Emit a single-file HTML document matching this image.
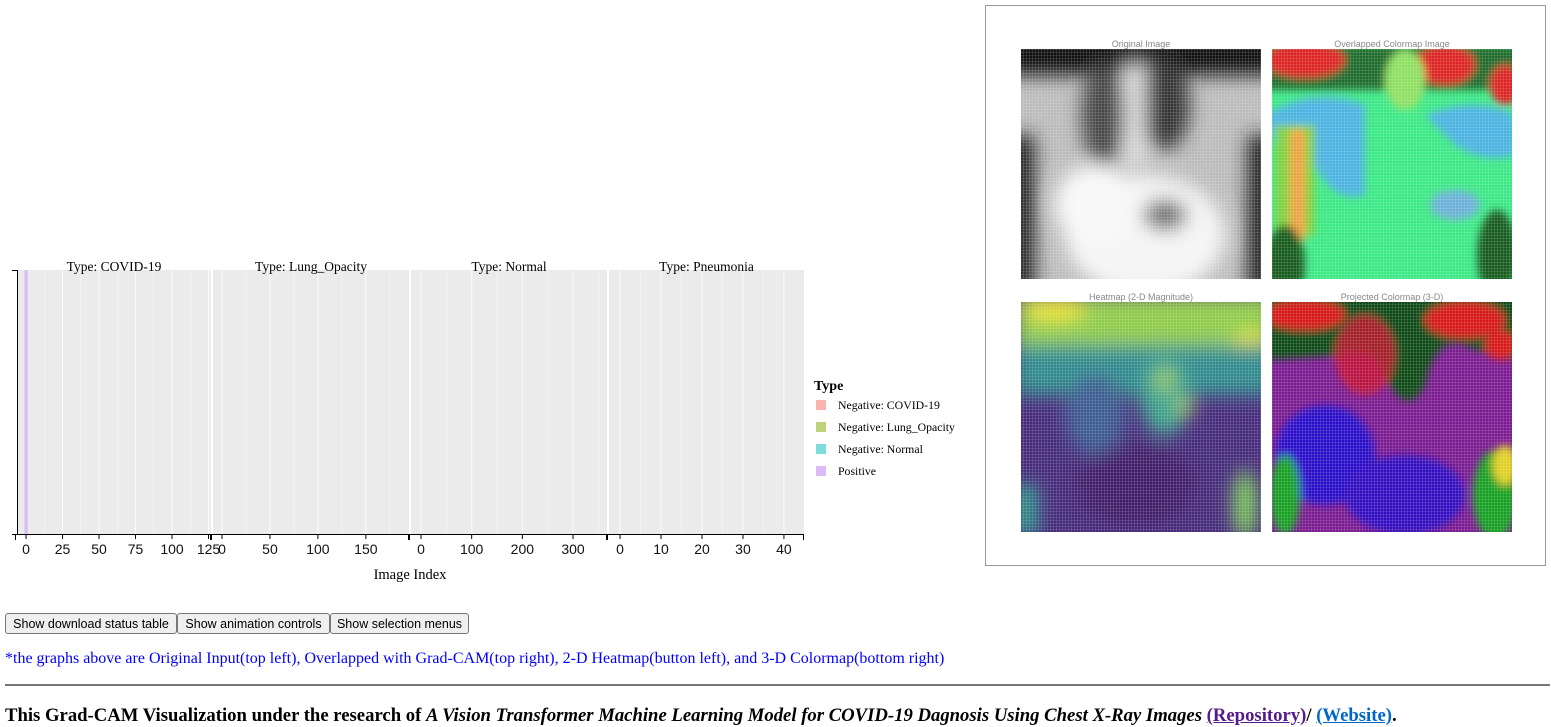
<!DOCTYPE html>
<html><head><meta charset="utf-8">
<style>
body{margin:0;width:1551px;height:726px;overflow:hidden;background:#fff;font-family:"Liberation Serif",serif;position:relative}
.abs{position:absolute}
button{position:absolute;top:613px;height:21px;font:12.5px "Liberation Sans",sans-serif;background:#efefef;border:1px solid #767676;border-radius:3px;padding:0 4px;color:#000;white-space:nowrap;overflow:hidden}
</style></head><body>
<svg class="abs" style="left:0;top:0" width="970" height="600" id="chart" font-family="Liberation Serif, serif"></svg>

<div class="abs" style="left:985px;top:5px;width:561px;height:561px;border:1px solid #999;box-sizing:border-box;">
<svg width="561" height="561" style="position:absolute;left:-1px;top:-1px">
<defs>
<filter id="bl" x="-10%" y="-10%" width="120%" height="120%"><feGaussianBlur stdDeviation="9"/></filter>
<filter id="bl2" x="-10%" y="-10%" width="120%" height="120%"><feGaussianBlur stdDeviation="4"/></filter>
<pattern id="grid" width="3" height="3" patternUnits="userSpaceOnUse"><path d="M3 0V3H0" fill="none" stroke="#fff" stroke-opacity="0.35" stroke-width="0.8"/></pattern>
<clipPath id="c1"><rect x="36" y="44" width="240" height="230"/></clipPath>
<clipPath id="c2"><rect x="287" y="44" width="240" height="230"/></clipPath>
<clipPath id="c3"><rect x="36" y="297" width="240" height="230"/></clipPath>
<clipPath id="c4"><rect x="287" y="297" width="240" height="230"/></clipPath>
</defs>
<g font-family="Liberation Sans, sans-serif" font-size="9" fill="#888" text-anchor="middle">
<text x="156" y="42">Original Image</text>
<text x="407" y="42">Overlapped Colormap Image</text>
<text x="156" y="295">Heatmap (2-D Magnitude)</text>
<text x="407" y="295">Projected Colormap (3-D)</text>
</g>
<g clip-path="url(#c1)">
<rect x="36" y="44" width="240" height="230" fill="#bbb"/>
<g filter="url(#bl)">
<rect x="20" y="30" width="280" height="40" fill="#111"/>
<rect x="20" y="130" width="30" height="160" fill="#222"/>
<rect x="262" y="130" width="30" height="160" fill="#222"/>
<ellipse cx="160" cy="230" rx="80" ry="60" fill="#f4f4f4"/>
<ellipse cx="110" cy="200" rx="40" ry="40" fill="#f8f8f8"/>
<ellipse cx="118" cy="110" rx="22" ry="50" fill="#444"/>
<ellipse cx="180" cy="100" rx="25" ry="45" fill="#333"/>
<ellipse cx="180" cy="210" rx="22" ry="16" fill="#666"/>
<rect x="140" y="60" width="20" height="100" fill="#ddd"/>
</g>
<rect x="36" y="44" width="240" height="230" fill="url(#grid)"/>
</g>
<g clip-path="url(#c2)">
<rect x="287" y="44" width="240" height="230" fill="#3ae884"/>
<g filter="url(#bl2)">
<rect x="280" y="40" width="260" height="45" fill="#1a6a2a"/>
<ellipse cx="320" cy="55" rx="40" ry="18" fill="#d22"/>
<ellipse cx="460" cy="60" rx="30" ry="20" fill="#d22"/>
<ellipse cx="520" cy="80" rx="15" ry="20" fill="#d22"/>
<path d="M280 110 Q330 80 380 100 L380 190 Q350 200 330 160 L290 140Z" fill="#4ab2e0"/>
<path d="M440 110 Q490 90 530 110 L530 150 Q500 160 470 140Z" fill="#4ab2e0"/>
<rect x="290" y="120" width="40" height="110" fill="#7cd03a"/>
<rect x="305" y="125" width="15" height="110" fill="#f0a040"/>
<ellipse cx="300" cy="260" rx="20" ry="40" fill="#135a1e"/>
<ellipse cx="512" cy="250" rx="20" ry="45" fill="#135a1e"/>
<ellipse cx="470" cy="200" rx="25" ry="15" fill="#6ab0d8"/>
<ellipse cx="420" cy="75" rx="20" ry="30" fill="#8ee060"/>
</g>
<rect x="287" y="44" width="240" height="230" fill="url(#grid)"/>
</g>
<g clip-path="url(#c3)">
<rect x="36" y="297" width="240" height="230" fill="#452a7a"/>
<g filter="url(#bl)">
<rect x="30" y="290" width="260" height="60" fill="#8ecb4a"/>
<ellipse cx="70" cy="305" rx="30" ry="12" fill="#e8e030"/>
<ellipse cx="265" cy="345" rx="18" ry="20" fill="#e0e030"/>
<rect x="30" y="340" width="260" height="50" fill="#2e8a8c"/>
<ellipse cx="180" cy="390" rx="25" ry="40" fill="#3aa08a"/>
<ellipse cx="180" cy="375" rx="8" ry="12" fill="#9ed050"/>
<ellipse cx="200" cy="402" rx="8" ry="8" fill="#a8d848"/>
<ellipse cx="110" cy="410" rx="30" ry="40" fill="#3a5a90"/>
<rect x="30" y="480" width="22" height="50" fill="#2a9a8a"/>
<ellipse cx="260" cy="500" rx="12" ry="35" fill="#78c858"/>
<ellipse cx="150" cy="480" rx="60" ry="40" fill="#3f1a68"/>
</g>
<rect x="36" y="297" width="240" height="230" fill="url(#grid)"/>
</g>
<g clip-path="url(#c4)">
<rect x="287" y="297" width="240" height="230" fill="#7a1a90"/>
<g filter="url(#bl2)">
<path d="M280 290 H540 V355 Q500 350 480 340 Q450 330 440 380 Q420 420 395 360 Q380 340 360 350 L280 355Z" fill="#0e4a16"/>
<ellipse cx="320" cy="310" rx="40" ry="15" fill="#d61818"/>
<ellipse cx="480" cy="315" rx="40" ry="18" fill="#d61818"/>
<ellipse cx="515" cy="340" rx="15" ry="15" fill="#d61818"/>
<ellipse cx="380" cy="350" rx="30" ry="40" fill="#c8102a" opacity="0.8"/>
<ellipse cx="340" cy="450" rx="50" ry="50" fill="#2a10c8"/>
<ellipse cx="420" cy="490" rx="60" ry="40" fill="#3010c0"/>
<ellipse cx="300" cy="490" rx="15" ry="40" fill="#18a020"/>
<ellipse cx="510" cy="490" rx="22" ry="45" fill="#18a020"/>
<ellipse cx="520" cy="460" rx="12" ry="20" fill="#e0d020"/>
</g>
<rect x="287" y="297" width="240" height="230" fill="url(#grid)"/>
</g>
</svg>
</div>

<button style="left:5px;width:172px">Show download status table</button>
<button style="left:177px;width:153px">Show animation controls</button>
<button style="left:330px;width:139px">Show selection menus</button>
<div class="abs" style="left:5px;top:650px;font-size:16px;color:#00f;white-space:nowrap">*the graphs above are Original Input(top left), Overlapped with Grad-CAM(top right), 2-D Heatmap(button left), and 3-D Colormap(bottom right)</div>
<div class="abs" style="left:5px;top:684px;width:1545px;height:0;border-top:2px solid #777"></div>
<div class="abs" style="left:5px;top:705px;font-size:18.7px;font-weight:bold;white-space:nowrap">This Grad-CAM Visualization under the research of <i>A Vision Transformer Machine Learning Model for COVID-19 Dagnosis Using Chest X-Ray Images</i> <a style="color:#551a8b;text-decoration:underline">(Repository)</a>/ <a style="color:#0066cc;text-decoration:underline">(Website)</a>.</div>

<script>
const panelNames = ["COVID-19","Lung_Opacity","Normal","Pneumonia"];
const panelDomains = [[-6.2,126.7],[-9.4,195],[-19.7,367],[-2.7,44.9]];
const panelTicks = [[0,25,50,75,100,125],[0,50,100,150],[0,100,200,300],[0,10,20,30,40]];
const barPanel = [0];
const barIndex = [0];
const barType = ["Positive"];
const legendTypes = ["Negative: COVID-19","Negative: Lung_Opacity","Negative: Normal","Positive"];
const legendColors = ["#f8b4ae","#bcd37c","#7fdcdc","#dcbcf8"];

const NS="http://www.w3.org/2000/svg";
const svg=document.getElementById('chart');
function mk(t,a,p){const e=document.createElementNS(NS,t);for(const k in a)e.setAttribute(k,a[k]);(p||svg).appendChild(e);return e;}
const panelX=[17,213,411,609], panelW=[194,196,196,195], plotTop=270, plotBot=534;
function xs(p,v){const d=panelDomains[p];return panelX[p]+(v-d[0])/(d[1]-d[0])*panelW[p];}

panelNames.forEach((n,p)=>{
  const r=mk('rect',{x:panelX[p],y:plotTop,width:panelW[p],height:plotBot-plotTop,fill:'#ebebeb'});
  
  
  const tk=panelTicks[p]; const step=tk[1]-tk[0];
  for(let v=tk[0]-step/2;v<=panelDomains[p][1];v+=step/2){
    if(v<panelDomains[p][0])continue;
    const major=Math.abs((v-tk[0])/step-Math.round((v-tk[0])/step))<1e-6;
    const x=xs(p,v);
    const g=mk('line',{x1:x,x2:x,y1:plotTop,y2:plotBot,stroke:'#fff','stroke-width':major?1:0.5,'stroke-opacity':0.8});
    
    
  }
  const t=mk('text',{x:panelX[p]+panelW[p]/2,y:plotTop+1,'font-size':13.5,'text-anchor':'middle'});
  t.textContent='Type: '+n;
  
  
  const ax=mk('line',{x1:panelX[p]-2,x2:panelX[p]+panelW[p],y1:plotBot+0.5,y2:plotBot+0.5,stroke:'#000','stroke-width':1});
  
  
  [panelX[p]-1.5,panelX[p]+panelW[p]-0.5].forEach(x=>mk('line',{x1:x,x2:x,y1:plotBot,y2:plotBot+6,stroke:'#000'}));
  tk.forEach(v=>{
    const x=xs(p,v);
    mk('line',{x1:x,x2:x,y1:plotBot,y2:plotBot+5,stroke:'#000'});
    const l=mk('text',{x:x,y:plotBot+20,'font-size':14,'text-anchor':'middle','font-family':'Liberation Sans, sans-serif',fill:'#111'});
    l.textContent=v;
    
    
  });
});
barPanel.forEach((p,i)=>{
  const x=xs(p,barIndex[i]);
  const b=mk('rect',{x:x-1.6,y:plotTop,width:3.2,height:plotBot-plotTop,fill:legendColors[legendTypes.indexOf(barType[i])]});
  
  
});
const ya=mk('line',{x1:17.5,x2:17.5,y1:plotTop,y2:plotBot,stroke:'#000'});


mk('line',{x1:12,x2:17,y1:plotTop+0.5,y2:plotTop+0.5,stroke:'#000'});
mk('line',{x1:12,x2:17,y1:plotBot+0.5,y2:plotBot+0.5,stroke:'#000'});
const xt=mk('text',{x:410,y:579,'font-size':14.5,'text-anchor':'middle'});
xt.textContent='Image Index';


const lt=mk('text',{x:814,y:390,'font-size':14,'font-weight':'bold'});
lt.textContent='Type';


legendTypes.forEach((n,i)=>{
  const y=400+i*22;
  const s=mk('rect',{x:816,y:y,width:10,height:10,fill:legendColors[i]});
  
  
  const t=mk('text',{x:838,y:y+9,'font-size':11.8});
  t.textContent=n;
  
  
});
</script>
</body></html>
